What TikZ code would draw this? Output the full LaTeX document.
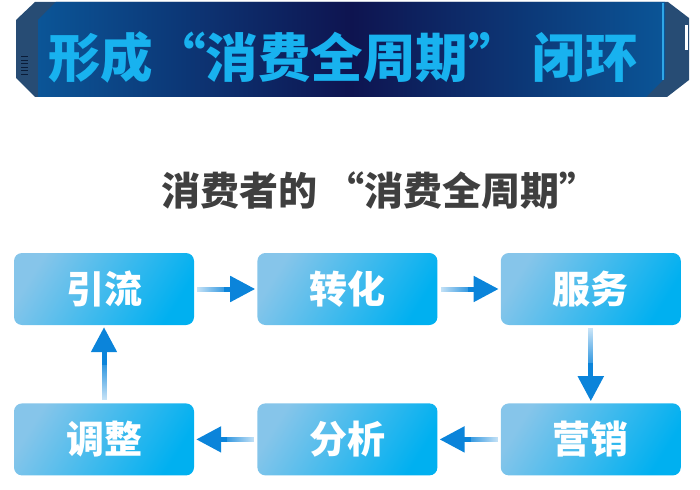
\documentclass[tikz,border=0pt]{standalone}
\usepackage{fontspec}
\setmainfont{Noto Sans CJK SC}
\usetikzlibrary{arrows.meta, positioning, fadings}
\definecolor{bandedge}{HTML}{274C74}
\definecolor{bandside}{HTML}{0B5597}
\definecolor{bandmid}{HTML}{0E1450}
\definecolor{bandline}{HTML}{2FA6E6}
\definecolor{bandvent}{HTML}{0A1C38}
\definecolor{titlecyan}{HTML}{18B2EF}
\definecolor{subgrey}{HTML}{3F3F3F}
\definecolor{boxcyan}{HTML}{00B0F0}
\definecolor{boxlight}{HTML}{86C5EA}
\definecolor{arrowblue}{HTML}{0B84DA}
\tikzfading[name=fadeR, left color=transparent!88, right color=transparent!0, middle color=transparent!15]
\tikzfading[name=fadeL, left color=transparent!0, right color=transparent!88, middle color=transparent!15]
\tikzfading[name=fadeD, top color=transparent!88, bottom color=transparent!0, middle color=transparent!15]
\tikzfading[name=fadeU, top color=transparent!0, bottom color=transparent!88, middle color=transparent!15]
\tikzset{
  stage/.style={rectangle, rounded corners=8pt, minimum width=180pt, minimum height=72pt, inner sep=0pt,
                left color=boxlight, right color=boxcyan, shading angle=58,
                text=white, font=\fontsize{38}{38}\selectfont\bfseries},
  shaft/.style={line width=5pt, draw=arrowblue, shorten <=3pt, shorten >=22pt},
  tip/.style={-{Triangle[length=25pt, width=25pt]}, line width=5pt, draw=arrowblue, fill=arrowblue, shorten >=2pt},
  headline/.style={font=\fontsize{52.5}{52.5}\selectfont\bfseries, text=titlecyan, inner sep=0pt},
  subline/.style={font=\fontsize{39}{39}\selectfont\bfseries, text=subgrey, inner sep=0pt},
}

\begin{document}
\begin{tikzpicture}[x=1pt, y=-1pt]
    \useasboundingbox (0,0) rectangle (700,489);

    % title banner
    \fill[bandedge] (16,20) -- (35,2) -- (668,2) -- (689,18) -- (689,80) -- (667,97) -- (35,97) -- (16,78) -- cycle;
    \fill[white] (685,25) rectangle (688,50);
    \shade[left color=bandside, right color=bandside, middle color=bandmid]
      (38,20) -- (56,2) -- (665,2) -- (665,78) -- (646,97) -- (38,97) -- cycle;
    \draw[bandline, line width=1.2pt] (663,3) -- (663,80);
    \foreach \y in {57,60.5,...,76}{ \draw[bandvent, line width=1pt] (21,\y) -- (28,\y); }
    \node[headline] (title) at (343,57) {形成“消费全周期” 闭环};

    % subtitle
    \node[subline] (sub) at (380,191) {消费者的 “消费全周期”};

    % stages
    \node[stage] (yl) at (104,289) {引流};
    \node[stage, right=63pt of yl] (zh) {转化};
    \node[stage, right=63pt of zh] (fw) {服务};
    \node[stage, below=78pt of fw] (yx) {营销};
    \node[stage, left=63pt of yx] (fx) {分析};
    \node[stage, left=63pt of fx] (tz) {调整};

    % arrows: faded shaft, then solid head
    \foreach \a/\b/\f/\s in {yl.east/zh.west/fadeR/30pt, zh.east/fw.west/fadeR/30pt,
                             fw.south/yx.north/fadeD/38pt, yx.west/fx.east/fadeL/30pt,
                             fx.west/tz.east/fadeL/30pt, tz.north/yl.south/fadeU/38pt}{
      \draw[shaft, path fading=\f] (\a) -- (\b);
      \draw[tip, shorten <=\s] (\a) -- (\b);
    }
\end{tikzpicture}
\end{document}
